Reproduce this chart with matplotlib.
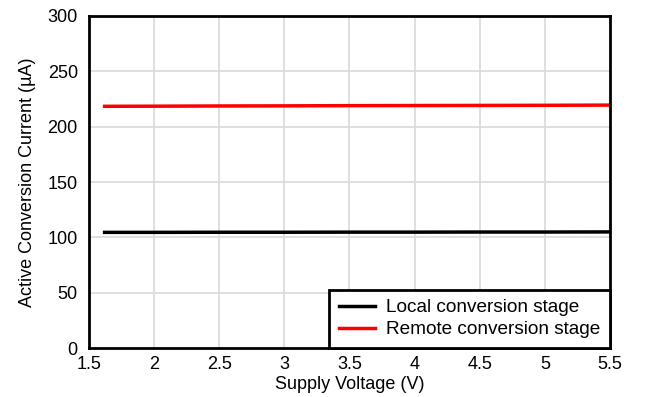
import matplotlib
matplotlib.use("Agg")
import matplotlib.pyplot as plt

# supply voltage (V) and current (uA)
voltage = [1.62, 2.0, 2.5, 3.0, 3.5, 4.0, 4.5, 5.0, 5.5]
local_current = [104.5, 104.5, 104.6, 104.6, 104.7, 104.7, 104.8, 104.8, 104.9]
remote_current = [218.4, 218.5, 218.7, 218.8, 219.0, 219.1, 219.2, 219.3, 219.5]

x_ticks = [1.5, 2, 2.5, 3, 3.5, 4, 4.5, 5, 5.5]
y_ticks = [0, 50, 100, 150, 200, 250, 300]

plt.rcParams['font.family'] = ['Liberation Sans', 'DejaVu Sans']
plt.rcParams['font.size'] = 13

fig = plt.figure(figsize=(6.48, 3.97), dpi=100)
ax = fig.add_axes([0.1373, 0.1234, 0.8041, 0.8363])

ax.plot(voltage, local_current, color='black', lw=2.5, label='Local conversion stage')
ax.plot(voltage, remote_current, color='#ff0000', lw=2.5, label='Remote conversion stage')

ax.set_xlim(1.5, 5.5)
ax.set_ylim(0, 300)
ax.set_xticks(x_ticks)
ax.set_xticklabels([f"{t:g}" for t in x_ticks])
ax.set_yticks(y_ticks)
ax.grid(True, color='#d9d9d9', lw=1.2)
ax.set_axisbelow(True)
ax.tick_params(axis='y', length=0, pad=8)
ax.tick_params(axis='x', length=0, pad=6)
for s in ax.spines.values():
    s.set_linewidth(2)
    s.set_color('black')

ax.set_xlabel("Supply Voltage (V)", labelpad=2)
ax.set_ylabel("Active Conversion Current (\u00b5A)", labelpad=8)

leg = ax.legend(loc='lower right', frameon=True, fancybox=False, borderaxespad=0,
                fontsize=13.7, handlelength=1.9, borderpad=0.5, labelspacing=0.25,
                handletextpad=0.6)
leg.get_frame().set_edgecolor('black')
leg.get_frame().set_linewidth(2)
leg.get_frame().set_alpha(1)

fig.savefig("out.png", dpi=100)
